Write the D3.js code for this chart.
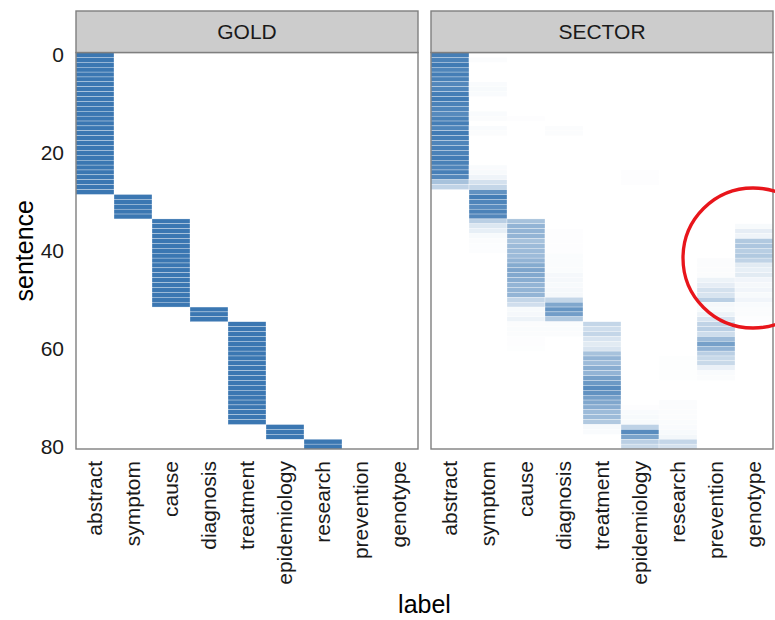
<!DOCTYPE html>
<html>
<head>
<meta charset="utf-8">
<script src="https://cdn.jsdelivr.net/npm/d3@7"></script>
<style>
  html, body { margin: 0; padding: 0; background: #ffffff; }
  svg { display: block; font-family: "Liberation Sans", Arial, Helvetica, sans-serif; }
</style>
</head>
<body>
<svg id="chart" width="775" height="620"></svg>
<script>
// Section labels (columns) and sentence ticks
const labels = ["abstract", "symptom", "cause", "diagnosis", "treatment",
                "epidemiology", "research", "prevention", "genotype"];
const sentenceTicks = [0, 20, 40, 60, 80];
const facets = ["GOLD", "SECTOR"];

// Gold-standard section (index into labels) for each of the 81 sentences
const goldLabel = [
  0,0,0,0,0,0,0,0,0,0,
  0,0,0,0,0,0,0,0,0,0,
  0,0,0,0,0,0,0,0,0,1,
  1,1,1,1,2,2,2,2,2,2,
  2,2,2,2,2,2,2,2,2,2,
  2,2,3,3,3,4,4,4,4,4,
  4,4,4,4,4,4,4,4,4,4,
  4,4,4,4,4,4,5,5,5,6,
  6
];

// SECTOR predicted probability per sentence, one array per label
const sectorAbstract = [
  .95,.92,.97,.90,.95,.93,.88,.90,.95,.97,
  .92,.90,.86,.93,.95,.90,.97,.95,.90,.94,
  .92,.96,.93,.90,.94,.88,.45,.32,0,0,
  0,0,0,0,0,0,0,0,0,0,
  0,0,0,0,0,0,0,0,0,0,
  0,0,0,0,0,0,0,0,0,0,
  0,0,0,0,0,0,0,0,0,0,
  0,0,0,0,0,0,0,0,0,0,
  0
];
const sectorSymptom = [
  0,.02,0,0,0,0,.03,.04,.03,0,
  0,0,.03,.02,0,.03,.02,0,0,0,
  0,0,0,.03,.04,.08,.22,.30,.80,.95,
  .90,.85,.92,.88,.35,.18,.12,.04,.02,.015,
  .015,0,0,0,0,0,0,0,0,0,
  0,0,0,0,0,0,0,0,0,0,
  0,0,0,0,0,0,0,0,0,0,
  0,0,0,0,0,0,0,0,0,0,
  0
];
const sectorCause = [
  0,0,0,0,0,0,0,0,0,0,
  0,0,0,.012,0,0,0,0,0,0,
  0,0,0,0,0,0,0,0,0,0,
  0,0,0,0,.45,.55,.55,.55,.45,.50,
  .50,.50,.55,.62,.66,.64,.60,.55,.55,.55,
  .30,.24,.04,.05,.09,.02,.025,.02,.012,.012,
  .008,0,0,0,0,0,0,0,0,0,
  0,0,0,0,0,0,0,0,0,0,
  0
];
const sectorDiagnosis = [
  0,0,0,0,0,0,0,0,0,0,
  0,0,0,0,0,.02,.02,0,0,0,
  0,0,0,0,0,0,0,0,0,0,
  0,0,0,0,0,0,.012,.012,.012,.012,
  .012,.025,.025,.025,.025,.05,.05,.04,.05,.05,
  .30,.65,.78,.72,.40,.025,.025,.02,0,0,
  0,0,0,0,0,0,0,0,0,0,
  0,0,0,0,0,0,0,0,0,0,
  0
];
const sectorTreatment = [
  0,0,0,0,0,0,0,0,0,0,
  0,0,0,0,0,0,0,0,0,0,
  0,0,0,0,0,0,0,0,0,0,
  0,0,0,0,0,0,0,0,0,0,
  0,0,0,0,0,0,0,0,0,0,
  0,0,0,0,0,.30,.25,.30,.20,.15,
  .20,.45,.55,.50,.60,.55,.70,.75,.85,.80,
  .70,.65,.60,.50,.50,.40,.04,.03,0,0,
  0
];
const sectorEpidemiology = [
  0,0,0,0,0,0,0,0,0,0,
  0,0,0,0,0,0,0,0,0,0,
  0,0,0,0,.012,.012,.012,0,0,0,
  0,0,0,0,0,0,0,0,0,0,
  0,0,0,0,0,0,0,0,0,0,
  0,0,0,0,0,0,0,0,0,0,
  0,0,0,0,0,0,0,0,0,0,
  0,0,.012,.03,.04,.04,.33,.85,.68,.35,
  .28
];
const sectorResearch = [
  0,0,0,0,0,0,0,0,0,0,
  0,0,0,0,0,0,0,0,0,0,
  0,0,0,0,0,0,0,0,0,0,
  0,0,0,0,0,0,0,0,0,0,
  0,0,0,0,0,0,0,0,0,0,
  0,0,0,0,0,0,0,0,0,0,
  0,0,.01,.01,.01,.01,.01,0,0,0,
  0,.02,.02,.02,.02,.025,.03,.04,.06,.30,
  .22
];
const sectorPrevention = [
  0,0,0,0,0,0,0,0,0,0,
  0,0,0,0,0,0,0,0,0,0,
  0,0,0,0,0,0,0,0,0,0,
  0,0,0,0,0,0,0,0,0,0,
  0,0,.02,.02,.02,.02,.09,.13,.22,.20,
  .35,.05,.04,.09,.20,.32,.35,.25,.50,.70,
  .55,.35,.28,.28,.10,.03,.02,0,0,0,
  0,0,0,0,0,0,0,0,0,0,
  0
];
const sectorGenotype = [
  0,0,0,0,0,0,0,0,0,0,
  0,0,0,0,0,0,0,0,0,0,
  0,0,0,0,0,0,0,0,0,0,
  0,0,0,0,0,.04,.13,.08,.40,.42,
  .36,.40,.32,.15,.12,.15,.07,.05,.07,.04,
  .07,.03,.02,.02,.012,0,0,0,0,0,
  0,0,0,0,0,0,0,0,0,0,
  0,0,0,0,0,0,0,0,0,0,
  0
];

const sectorSeries = [sectorAbstract, sectorSymptom, sectorCause, sectorDiagnosis,
  sectorTreatment, sectorEpidemiology, sectorResearch, sectorPrevention, sectorGenotype];

// Long-form cells for each facet
function goldCells() {
  return goldLabel.map((j, s) => ({ sentence: s, label: labels[j], value: 1 }));
}
function sectorCells() {
  const out = [];
  sectorSeries.forEach((arr, j) => arr.forEach((v, s) => {
    if (v > 0) out.push({ sentence: s, label: labels[j], value: v });
  }));
  return out;
}
const cellsByFacet = { GOLD: goldCells(), SECTOR: sectorCells() };

// Layout
const svg = d3.select("#chart");
const stripTop = 11, panelTop = 52.5, panelBottom = 449;
const panelX = { GOLD: [76, 418], SECTOR: [431, 773] };
const borderColor = "#7f7f7f";

const y = d3.scaleLinear().domain([-0.5, 80.5]).range([panelTop, panelBottom]);
const color = d3.scaleLinear().domain([0, 1]).range(["#ffffff", "#3b77b2"]);

facets.forEach(f => {
  const [x0, x1] = panelX[f];
  const x = d3.scaleBand().domain(labels).range([x0, x1]).padding(0);
  const g = svg.append("g");

  // background
  g.append("rect").attr("x", x0).attr("y", panelTop)
    .attr("width", x1 - x0).attr("height", panelBottom - panelTop)
    .attr("fill", "#ffffff");

  // tiles
  g.append("g").selectAll("rect")
    .data(cellsByFacet[f])
    .join("rect")
    .attr("x", d => x(d.label))
    .attr("y", d => y(d.sentence - 0.5))
    .attr("width", x.bandwidth())
    .attr("height", d => y(d.sentence + 0.5) - y(d.sentence - 0.5))
    .attr("fill", d => color(d.value))
    .attr("stroke", "#ffffff")
    .attr("stroke-width", 0.3);

  // panel border
  g.append("rect").attr("x", x0).attr("y", panelTop)
    .attr("width", x1 - x0).attr("height", panelBottom - panelTop)
    .attr("fill", "none").attr("stroke", borderColor).attr("stroke-width", 1.4);

  // strip
  g.append("rect").attr("x", x0).attr("y", stripTop)
    .attr("width", x1 - x0).attr("height", panelTop - stripTop)
    .attr("fill", "#cccccc").attr("stroke", borderColor).attr("stroke-width", 1.4);
  g.append("text")
    .attr("x", (x0 + x1) / 2).attr("y", (stripTop + panelTop) / 2)
    .attr("dy", "0.35em").attr("text-anchor", "middle")
    .attr("font-size", 21).attr("fill", "#1a1a1a")
    .text(f);

  // x axis
  const xa = svg.append("g")
    .attr("transform", `translate(0,${panelBottom})`)
    .call(d3.axisBottom(x).tickSize(0).tickPadding(0));
  xa.select(".domain").remove();
  xa.selectAll(".tick text")
    .attr("font-size", 21).attr("fill", "#1a1a1a")
    .attr("font-family", null)
    .attr("text-anchor", "end")
    .attr("transform", "translate(0,12) rotate(-90)")
    .attr("x", 0).attr("y", 0).attr("dy", "0.35em");

  // y axis on the first facet only
  if (f === "GOLD") {
    const ya = svg.append("g")
      .attr("transform", `translate(${x0},0)`)
      .call(d3.axisLeft(y).tickValues(sentenceTicks).tickSize(0).tickPadding(12));
    ya.select(".domain").remove();
    ya.selectAll(".tick text")
      .attr("font-size", 21).attr("fill", "#1a1a1a")
      .attr("font-family", null);
  }
});

// axis titles
svg.append("text")
  .attr("x", (76 + 773) / 2).attr("y", 613)
  .attr("text-anchor", "middle").attr("font-size", 25).attr("fill", "#000000")
  .text("label");
svg.append("text")
  .attr("transform", `translate(33,${(panelTop + panelBottom) / 2}) rotate(-90)`)
  .attr("text-anchor", "middle").attr("font-size", 25).attr("fill", "#000000")
  .text("sentence");

// highlight ring around the genotype predictions
svg.append("circle")
  .attr("cx", 753).attr("cy", 258).attr("r", 70)
  .attr("fill", "none").attr("stroke", "#e8151b").attr("stroke-width", 3.3);
</script>
</body>
</html>
